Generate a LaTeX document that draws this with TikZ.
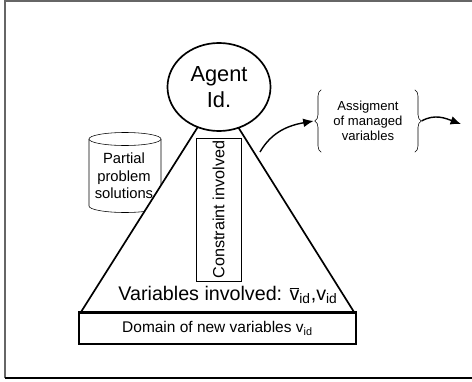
\documentclass[tikz,border=0pt]{standalone}
\usepackage{fontspec}
\setmainfont{Liberation Sans}
\usetikzlibrary{positioning}
\usetikzlibrary{shapes.geometric}
\usetikzlibrary{arrows.meta}
\usetikzlibrary{decorations.pathreplacing}

\begin{document}
\begin{tikzpicture}[
		x=0.025cm, y=0.025cm,
		% Style definitions
		agentnode/.style={draw, ellipse, line width=1.2pt, fill=white, minimum width=2.575cm, minimum height=2.2cm, inner sep=0pt, align=center, font=\fontsize{15.5}{18.5}\selectfont},
		constrbox/.style={draw, thin, fill=white, rotate=90, minimum width=3.575cm, minimum height=1.125cm, inner sep=0pt, font=\fontsize{11.5}{13}\selectfont},
		domainbox/.style={draw, line width=0.8pt, minimum width=6.925cm, minimum height=0.775cm, inner sep=0pt, font=\fontsize{11}{13}\selectfont},
		textlabel/.style={align=center, inner sep=0pt},
		sidebrace/.style={decorate, decoration={brace, amplitude=0.16cm}, thin},
		flow/.style={-{Latex[length=2.6mm, width=2.2mm]}, line width=1pt},
		]
		\useasboundingbox (0,0) rectangle (472,-381);

		% === Frame ===
		\draw[black!60, line width=1.4pt] (5,-378) -- (5,-1) -- (472,-1);
		\draw[line width=1.1pt] (5,-378) -- (472,-378);

		% === Data store (drawn first, the triangle covers it) ===
		\draw[thin, fill=white] (89,-139) -- (89,-206) arc (180:360:36 and 6.5) -- (161,-139);
		\draw[thin, fill=white] (125,-139) ellipse (36 and 6.5);
		\node[textlabel, font=\fontsize{10.5}{12.3}\selectfont] (parts) at (124,-176) {Partial\\problem\\solutions};

		% === Agent pyramid ===
		\coordinate (apex) at (218,-95);
		\coordinate (baseL) at (81,-312);
		\coordinate (baseR) at (354,-312);
		\draw[line width=1.2pt, fill=white] (baseL) -- (apex) -- (baseR) -- cycle;

		\node[constrbox] (constr) at (218.5,-209.5) {Constraint involved};
		\node[agentnode] (agent) at (219,-87) {Agent\\Id.};

		\node[textlabel, font=\fontsize{14}{16}\selectfont] (vars) at (228,-295)
			{Variables involved: $\overline{\mbox{v}}$\textsubscript{id},v\textsubscript{id}};

		% === Domain below the base ===
		\node[domainbox] (domain) at (217.5,-328.5) {Domain of new variables v\textsubscript{id}};
		\draw[line width=2pt] (domain.north west) -- (domain.north east);

		% === Assignment sent out ===
		\node[textlabel, font=\fontsize{9.3}{10.8}\selectfont, minimum width=2.325cm, minimum height=1.55cm] (assign) at (368,-121) {Assigment\\of managed\\variables};
		\draw[sidebrace] (assign.south west) -- (assign.north west);
		\draw[sidebrace] (assign.north east) -- (assign.south east);

		\coordinate (send) at (260,-152);
		\coordinate (onward) at (461,-124);
		\draw[flow] (send) to[out=60, in=190] ([xshift=-0.19cm]assign.west);
		\draw[flow] ([xshift=0.17cm]assign.east) to[out=30, in=160] (onward);

	\end{tikzpicture}
\end{document}
